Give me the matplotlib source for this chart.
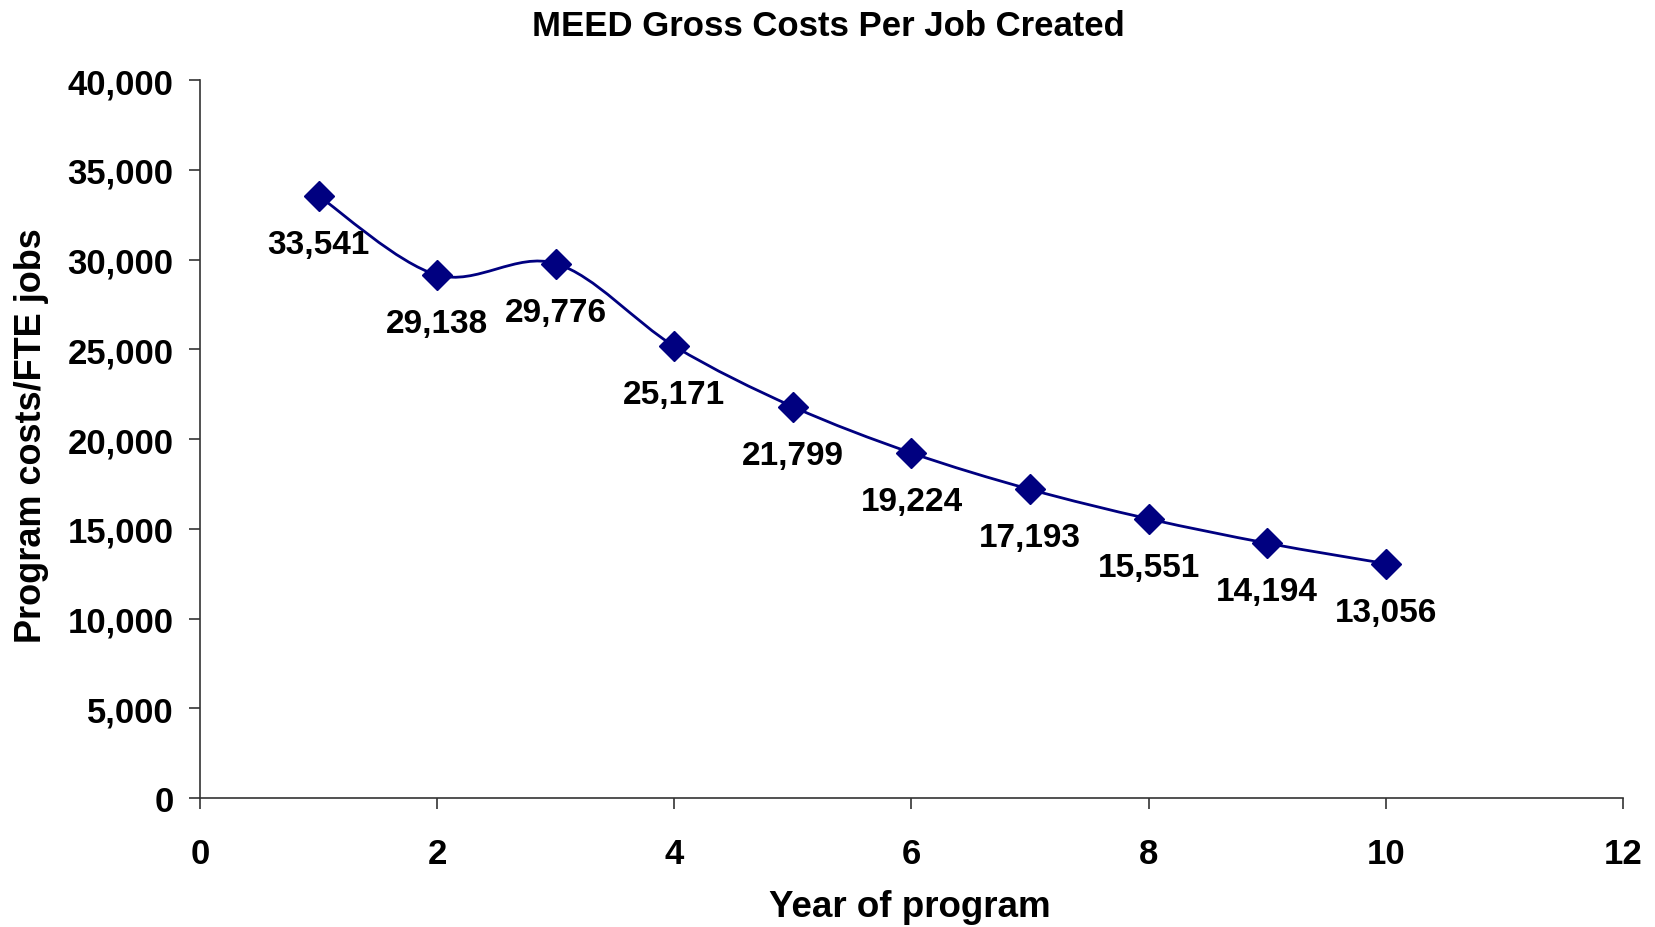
import numpy as np
import matplotlib
matplotlib.use("Agg")
import matplotlib.pyplot as plt
from matplotlib.path import Path
import matplotlib.patches as patches

plt.rcParams['font.family'] = ['Liberation Sans', 'DejaVu Sans']
plt.rcParams['font.weight'] = 'bold'

years = [1, 2, 3, 4, 5, 6, 7, 8, 9, 10]
costs = [33541, 29138, 29776, 25171, 21799, 19224, 17193, 15551, 14194, 13056]
labels = ['33,541', '29,138', '29,776', '25,171', '21,799',
          '19,224', '17,193', '15,551', '14,194', '13,056']

NAVY = '#000080'


def smooth_path(xs, ys):
    # Excel-style smoothed line: cubic Bezier segments through the points
    pts = np.column_stack([xs, ys]).astype(float)
    n = len(pts)
    verts = [pts[0]]
    codes = [Path.MOVETO]
    for i in range(n - 1):
        p0 = pts[i - 1] if i > 0 else pts[i]
        p1 = pts[i]
        p2 = pts[i + 1]
        p3 = pts[i + 2] if i + 2 < n else pts[i + 1]
        c1 = p1 + (p2 - p0) / 6.0
        c2 = p2 - (p3 - p1) / 6.0
        verts += [c1, c2, p2]
        codes += [Path.CURVE4] * 3
    return Path(verts, codes)


fig = plt.figure(figsize=(16.56, 9.28), dpi=100)
ax = fig.add_axes([200 / 1656, 1 - 799 / 928, 1423 / 1656, 718 / 928])

ax.add_patch(patches.PathPatch(smooth_path(years, costs), fill=False,
                               edgecolor=NAVY, lw=2, zorder=2))
ax.plot(years, costs, linestyle='none', marker='D', ms=15,
        color=NAVY, zorder=3)

for x, y, s in zip(years, costs, labels):
    ax.annotate(s, (x, y), xytext=(0, -35), textcoords='offset points',
                ha='center', va='center', fontsize=24, fontweight='bold')

ax.set_xlim(0, 12)
ax.set_ylim(0, 40000)
ax.set_xticks(range(0, 13, 2))
ax.set_yticks(range(0, 40001, 5000))
ax.set_yticklabels([f'{v:,}' for v in range(0, 40001, 5000)])

for side in ['top', 'right']:
    ax.spines[side].set_visible(False)
for side in ['left', 'bottom']:
    ax.spines[side].set_color('#333333')
    ax.spines[side].set_linewidth(1.2)

ax.tick_params(axis='x', direction='out', length=8, width=1.2,
               color='#333333', pad=20, labelsize=25)
ax.tick_params(axis='y', direction='out', length=8, width=1.2,
               color='#333333', pad=11, labelsize=25)
for t in ax.get_xticklabels() + ax.get_yticklabels():
    t.set_fontweight('bold')

fig.text(828 / 1656, 1 - 27 / 928, 'MEED Gross Costs Per Job Created',
         ha='center', va='center', fontsize=25, fontweight='bold')
fig.text(910 / 1656, 1 - 908 / 928, 'Year of program',
         ha='center', va='center', fontsize=26.5, fontweight='bold')
fig.text(32 / 1656, 1 - 436 / 928, 'Program costs/FTE jobs', rotation=90,
         ha='center', va='center', fontsize=26, fontweight='bold')

plt.savefig('out.png', dpi=100)
plt.close()
